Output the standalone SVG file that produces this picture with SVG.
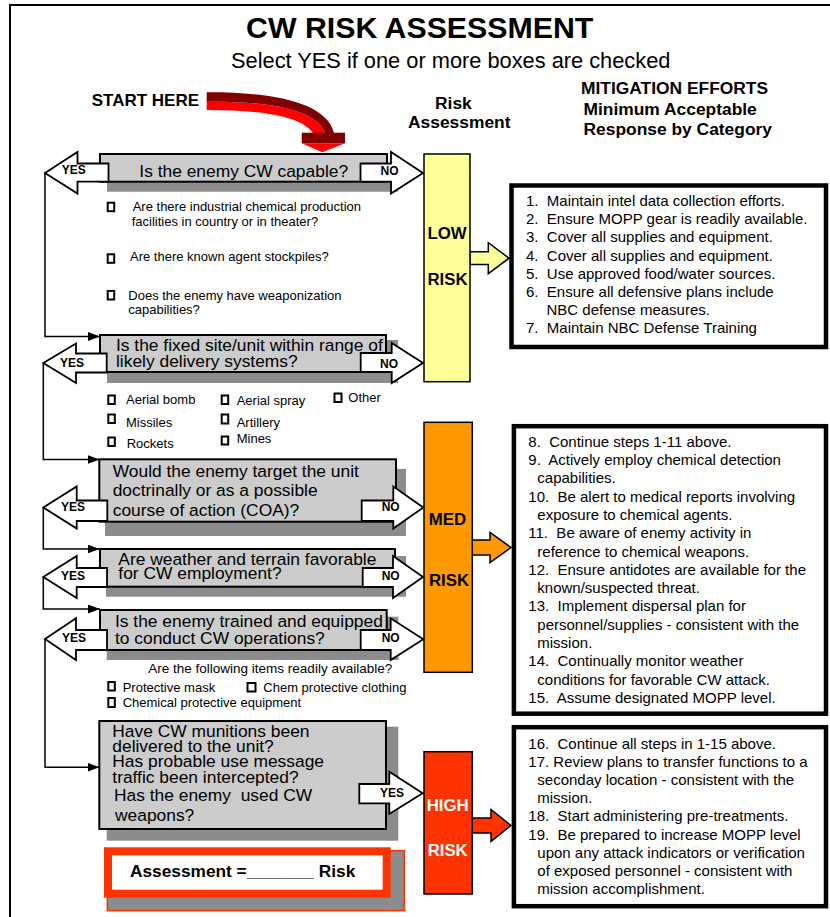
<svg xmlns="http://www.w3.org/2000/svg" width="830" height="917" viewBox="0 0 830 917">
<defs>
<marker id="ah" markerUnits="userSpaceOnUse" markerWidth="12" markerHeight="9" refX="12" refY="4.5" orient="auto"><path d="M0,0 L12,4.5 L0,9 z" fill="#000"/></marker>
<style>
text{font-family:"Liberation Sans",Arial,sans-serif;fill:#000}
.b{font-weight:bold}
.h{font-size:17.4px;font-weight:bold}
.q{font-size:17.4px}
.s{font-size:13px}
.m{font-size:15px}
.lb{font-size:12px;font-weight:bold}
.rk{font-size:16.8px;font-weight:bold;text-anchor:middle}
.box{fill:#cccccc;stroke:#000;stroke-width:2}
.sh{fill:#8c8c8c}
.blk{fill:#fff;stroke:#000;stroke-width:1.8;stroke-linejoin:miter}
.cb{fill:#fff;stroke:#000;stroke-width:2}
.con{fill:none;stroke:#000;stroke-width:1.5}
.mit{fill:#fff;stroke:#000;stroke-width:4.5}
.rbox{stroke:#000;stroke-width:1.5}
</style>
</defs>
<rect width="830" height="917" fill="#fff"/>
<path d="M10,917 V5 H830" fill="none" stroke="#000" stroke-width="2"/>

<g id="header">
<text x="246" y="37.5" class="b" style="font-size:30.3px">CW RISK ASSESSMENT</text>
<text x="231" y="68.3" style="font-size:21.8px">Select YES if one or more boxes are checked</text>
<text x="435" y="109.3" class="h">Risk</text>
<text x="408" y="128.3" class="h">Assessment</text>
<text x="581" y="94.3" class="h">MITIGATION EFFORTS</text>
<text x="583.5" y="115" class="h">Minimum Acceptable</text>
<text x="583.5" y="135" class="h">Response by Category</text>
</g>

<g id="start">
<text x="91.7" y="106" class="b" style="font-size:17px">START HERE</text>
<path d="M206.7,101.7 C262,101 316,108 325,133 L313,133 C302,117 265,110 206.7,110 Z" fill="#ff0000"/>
<path d="M206.7,92.3 C265,92 326,100 334,133 L325,133 C316,108 262,101 206.7,101.7 Z" fill="#800000"/>
<rect x="301.7" y="132.7" width="43.3" height="10.6" fill="#800000"/>
<polygon points="301.7,143.3 345,143.3 322.3,152.3" fill="#ff0000"/>
</g>

<g id="connectors">
<path class="con" d="M45,173 V336.5 H100" marker-end="url(#ah)"/>
<path class="con" d="M43.3,363 V459.5 H99.5" marker-end="url(#ah)"/>
<path class="con" d="M43.3,507.5 V549 H99.5" marker-end="url(#ah)"/>
<path class="con" d="M43.3,577 V609 H100" marker-end="url(#ah)"/>
<path class="con" d="M45,639 V767.3 H99.5" marker-end="url(#ah)"/>
<polygon class="rbox" fill="#ffff99" points="470,251.7 488.3,251.7 488.3,242.7 509,258.2 488.3,273.7 488.3,264.5 470,264.5"/>
<polygon class="rbox" fill="#ff9900" points="472,540 490,540 490,532.5 511,547.5 490,562.5 490,555 472,555"/>
<polygon class="rbox" fill="#ff3300" points="472,818 491,818 491,809.5 511,825.5 491,841.5 491,833 472,833"/>
</g>

<g id="q1">
<rect class="sh" x="107" y="164" width="291" height="27.7"/>
<rect class="box" x="100" y="154" width="287" height="27.7"/>
<text x="139.3" y="176.7" class="q">Is the enemy CW capable?</text>
<polygon class="blk" points="45,173 77.5,152 77.5,163.5 108.5,163.5 108.5,181.7 77.5,181.7 77.5,193.5"/>
<text x="61.7" y="174.3" class="lb">YES</text>
<polygon class="blk" points="423,173 391,152 391,163.5 360.5,163.5 360.5,181.7 391,181.7 391,193.5"/>
<text x="380.5" y="175" class="lb">NO</text>
</g>

<g id="q1-items">
<rect class="cb" x="107.7" y="202.7" width="6.5" height="8.5"/>
<text x="132.7" y="210.7" class="s">Are there industrial chemical production</text>
<text x="131.7" y="226" class="s">facilities in country or in theater?</text>
<rect class="cb" x="107.7" y="254.3" width="6.5" height="8.5"/>
<text x="130" y="261" class="s">Are there known agent stockpiles?</text>
<rect class="cb" x="107.7" y="291" width="6.5" height="8.5"/>
<text x="128.3" y="300" class="s">Does the enemy have weaponization</text>
<text x="128.3" y="314" class="s">capabilities?</text>
</g>

<g id="q2">
<rect class="sh" x="107" y="340" width="291" height="43"/>
<rect class="box" x="100" y="335" width="286" height="37"/>
<text x="116" y="350.5" class="q">Is the fixed site/unit within range of</text>
<text x="116" y="366.5" class="q">likely delivery systems?</text>
<polygon class="blk" points="43.3,363 76,343.5 76,353.5 106.7,353.5 106.7,372.5 76,372.5 76,383"/>
<text x="60" y="366.7" class="lb">YES</text>
<polygon class="blk" points="423,363 391.7,343 391.7,353 360.7,353 360.7,372 391.7,372 391.7,383"/>
<text x="380" y="368.3" class="lb">NO</text>
</g>

<g id="q2-items">
<rect class="cb" x="108.3" y="395.5" width="6.5" height="8.5"/>
<text x="126" y="404" class="s">Aerial bomb</text>
<rect class="cb" x="221.7" y="395.5" width="6.5" height="8.5"/>
<text x="236.7" y="405" class="s">Aerial spray</text>
<rect class="cb" x="334.5" y="393.5" width="7" height="8.5"/>
<text x="348.3" y="401.7" class="s">Other</text>
<rect class="cb" x="108.3" y="414.5" width="6.5" height="8.5"/>
<text x="126" y="426.7" class="s">Missiles</text>
<rect class="cb" x="221.7" y="414.5" width="6.5" height="9"/>
<text x="236.7" y="427" class="s">Artillery</text>
<rect class="cb" x="108.3" y="437.5" width="6.5" height="8.5"/>
<text x="126.7" y="448.3" class="s">Rockets</text>
<rect class="cb" x="221.7" y="436.5" width="6.5" height="8"/>
<text x="236.7" y="443.3" class="s">Mines</text>
</g>

<g id="q3">
<rect class="sh" x="105" y="469" width="301" height="67"/>
<rect class="box" x="99.3" y="459.3" width="296.7" height="62.4"/>
<text x="112.7" y="476.7" class="q">Would the enemy target the unit</text>
<text x="112.7" y="495.7" class="q">doctrinally or as a possible</text>
<text x="112.7" y="515.7" class="q">course of action (COA)?</text>
<polygon class="blk" points="43.3,507.5 76.7,486.5 76.7,500.5 107.3,500.5 107.3,521 76.7,521 76.7,528.5"/>
<text x="61" y="511" class="lb">YES</text>
<polygon class="blk" points="423.3,507.5 393.3,486.5 393.3,500.5 361.7,500.5 361.7,521 393.3,521 393.3,528.5"/>
<text x="381.7" y="511" class="lb">NO</text>
</g>

<g id="q4">
<rect class="sh" x="106" y="556" width="300" height="40.7"/>
<rect class="box" x="100" y="549" width="295" height="37.7"/>
<text x="118.3" y="565" class="q">Are weather and terrain favorable</text>
<text x="118.3" y="579.3" class="q">for CW employment?</text>
<polygon class="blk" points="43.3,577 76.7,556 76.7,568 107,568 107,587 76.7,587 76.7,598"/>
<text x="61" y="580" class="lb">YES</text>
<polygon class="blk" points="423,577 393,556 393,568 362.7,568 362.7,587 393,587 393,598"/>
<text x="381.7" y="580" class="lb">NO</text>
</g>

<g id="q5">
<rect class="sh" x="106.7" y="616.7" width="291.6" height="43.3"/>
<rect class="box" x="100" y="610" width="286.7" height="40"/>
<text x="115" y="627" class="q">Is the enemy trained and equipped</text>
<text x="115" y="643.5" class="q">to conduct CW operations?</text>
<polygon class="blk" points="45,639 76,618.3 76,630 107,630 107,650 76,650 76,660"/>
<text x="62" y="642" class="lb">YES</text>
<polygon class="blk" points="423.3,639.3 390.7,618.3 390.7,630 360.7,630 360.7,650 390.7,650 390.7,660"/>
<text x="381.7" y="641.7" class="lb">NO</text>
</g>

<g id="q5-items">
<text x="148.3" y="673.3" style="font-size:13.5px">Are the following items readily available?</text>
<rect class="cb" x="108.3" y="682" width="6.5" height="8.5"/>
<text x="122.7" y="691.7" class="s">Protective mask</text>
<rect class="cb" x="247.5" y="683" width="8" height="8.5"/>
<text x="263.3" y="691.7" class="s">Chem protective clothing</text>
<rect class="cb" x="108.3" y="698" width="6.5" height="9"/>
<text x="122.7" y="706.7" class="s">Chemical protective equipment</text>
</g>

<g id="q6">
<rect class="sh" x="106.7" y="726.7" width="291.6" height="114"/>
<rect class="box" x="99.3" y="721" width="286.7" height="108"/>
<text x="112.3" y="736.7" class="q">Have CW munitions been</text>
<text x="112.3" y="751.7" class="q">delivered to the unit?</text>
<text x="112.3" y="767.3" class="q">Has probable use message</text>
<text x="112.3" y="783.3" class="q">traffic been intercepted?</text>
<text x="114" y="800.7" class="q" xml:space="preserve">Has the enemy  used CW</text>
<text x="115" y="820.7" class="q">weapons?</text>
<polygon class="blk" points="422.7,793.3 389.3,771.7 389.3,784 359.3,784 359.3,803.3 389.3,803.3 389.3,814"/>
<text x="380" y="797.3" class="lb">YES</text>
</g>

<g id="assessment">
<rect x="107.3" y="850.7" width="297" height="60" fill="#8c8c8c" stroke="#ff3300" stroke-width="1.5"/>
<rect x="108" y="851.3" width="278.7" height="42.4" fill="#fff" stroke="#ff3300" stroke-width="8"/>
<text x="130" y="876.7" class="b" style="font-size:17.3px">Assessment =_______ Risk</text>
</g>

<g id="low-risk">
<rect class="rbox" x="424" y="154" width="46" height="227.7" fill="#ffff99"/>
<text x="447" y="239" class="rk">LOW</text>
<text x="447.5" y="285" class="rk">RISK</text>
</g>

<g id="med-risk">
<rect class="rbox" x="424" y="422.3" width="48.3" height="250" fill="#ff9900"/>
<text x="447.5" y="525" class="rk">MED</text>
<text x="449" y="586" class="rk">RISK</text>
</g>

<g id="high-risk">
<rect class="rbox" x="424" y="751.7" width="48.3" height="142.3" fill="#ff3300"/>
<text x="447.7" y="810.7" class="rk" style="fill:#fff">HIGH</text>
<text x="447.7" y="856" class="rk" style="fill:#fff">RISK</text>
</g>

<g id="low-mitigation">
<rect class="mit" x="511.5" y="185.5" width="314.5" height="161.5"/>
<text x="526" y="206" class="m">1.&#160; Maintain intel data collection efforts.</text>
<text x="526" y="224.2" class="m">2.&#160; Ensure MOPP gear is readily available.</text>
<text x="526" y="242.4" class="m">3.&#160; Cover all supplies and equipment.</text>
<text x="526" y="260.6" class="m">4.&#160; Cover all supplies and equipment.</text>
<text x="526" y="278.8" class="m">5.&#160; Use approved food/water sources.</text>
<text x="526" y="297" class="m">6.&#160; Ensure all defensive plans include</text>
<text x="546.5" y="315.2" class="m">NBC defense measures.</text>
<text x="526" y="333.4" class="m">7.&#160; Maintain NBC Defense Training</text>
</g>

<g id="med-mitigation">
<rect class="mit" x="513.9" y="426.2" width="312.1" height="287.5"/>
<text x="528.3" y="446.7" class="m">8.&#160; Continue steps 1-11 above.</text>
<text x="528.3" y="465" class="m">9.&#160; Actively employ chemical detection</text>
<text x="537.3" y="483.3" class="m">capabilities.</text>
<text x="528.3" y="501.6" class="m">10.&#160; Be alert to medical reports involving</text>
<text x="537.3" y="519.9" class="m">exposure to chemical agents.</text>
<text x="528.3" y="538.2" class="m">11.&#160; Be aware of enemy activity in</text>
<text x="537.3" y="556.5" class="m">reference to chemical weapons.</text>
<text x="528.3" y="574.8" class="m">12.&#160; Ensure antidotes are available for the</text>
<text x="537.3" y="593.1" class="m">known/suspected threat.</text>
<text x="528.3" y="611.4" class="m">13.&#160; Implement dispersal plan for</text>
<text x="537.3" y="629.7" class="m">personnel/supplies - consistent with the</text>
<text x="537.3" y="648" class="m">mission.</text>
<text x="528.3" y="666.3" class="m">14.&#160; Continually monitor weather</text>
<text x="537.3" y="684.6" class="m">conditions for favorable CW attack.</text>
<text x="528.3" y="702.9" class="m">15.&#160; Assume designated MOPP level.</text>
</g>

<g id="high-mitigation">
<rect class="mit" x="513.9" y="727.2" width="312.1" height="179"/>
<text x="528.3" y="748.5" class="m">16.&#160; Continue all steps in 1-15 above.</text>
<text x="528.3" y="766.7" class="m">17. Review plans to transfer functions to a</text>
<text x="537.3" y="784.9" class="m">seconday location - consistent with the</text>
<text x="537.3" y="803.1" class="m">mission.</text>
<text x="528.3" y="821.3" class="m">18.&#160; Start administering pre-treatments.</text>
<text x="528.3" y="839.5" class="m">19.&#160; Be prepared to increase MOPP level</text>
<text x="537.3" y="857.7" class="m">upon any attack indicators or verification</text>
<text x="537.3" y="875.9" class="m">of exposed personnel - consistent with</text>
<text x="537.3" y="894.1" class="m">mission accomplishment.</text>
</g>
</svg>
